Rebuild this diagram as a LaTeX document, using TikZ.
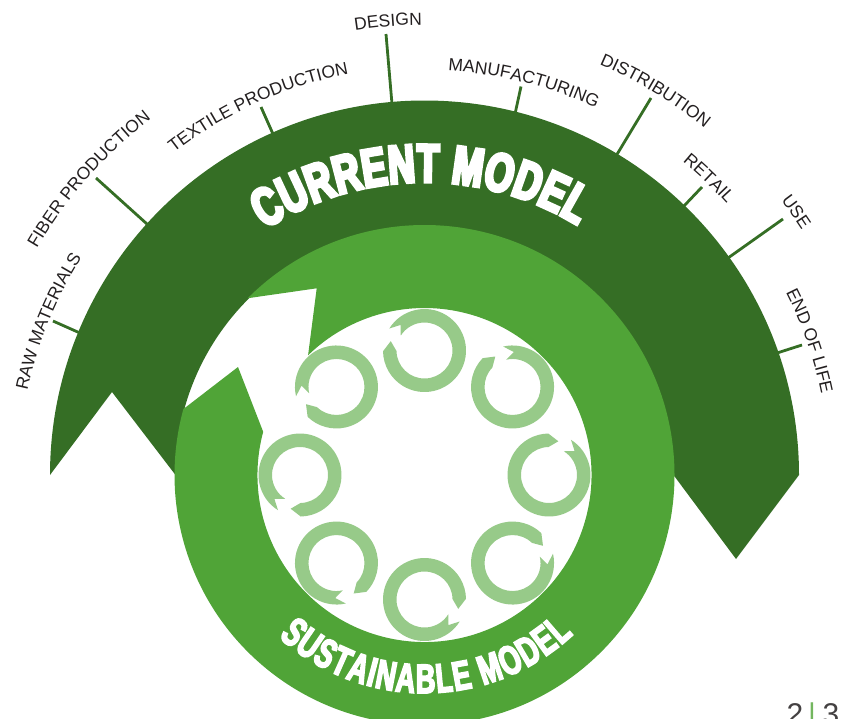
\documentclass[tikz,border=0pt]{standalone}
\usepackage{fontspec}
\usetikzlibrary{decorations.text}
\setmainfont{Liberation Sans}
\newfontface\heavyA{Liberation Sans Bold}[FakeStretch=0.68,FakeBold=6]
\newfontface\heavyB{Liberation Sans Bold}[FakeStretch=0.66,FakeBold=4]
\definecolor{darkg}{HTML}{356E25}
\definecolor{midg}{HTML}{50A437}
\definecolor{lightg}{HTML}{97CA89}
\definecolor{inkc}{HTML}{231F20}
\newcommand{\stagetext}[3]{%
  % #1 baseline radius, #2 mid angle, #3 text
  \pgfmathsetmacro{\sa}{#2+32}\pgfmathsetmacro{\ea}{#2-32}
  \path[postaction={decorate},decoration={text along path,text align=center,
     text={|\fontsize{17.5}{17.5}\selectfont\color{inkc}|#3}}]
     (\sa:#1) arc[start angle=\sa,end angle=\ea,radius=#1 pt];
}
\tikzset{
  stageline/.style={draw=darkg, line width=2.8pt},
  pagenum/.style={font=\fontsize{30}{30}\selectfont,inner sep=0pt,anchor=base},
}
\begin{document}
\begin{tikzpicture}[x=1pt,y=-1pt]
\clip (0,0) rectangle (851,718);
\begin{scope}[shift={(424.5,475)},x=1pt,y=1pt]
  % current model arrow
  \fill[darkg] (180:374.5) arc[start angle=180,end angle=0,radius=374.5pt]
     -- (311.5,-84) -- (0:249) arc[start angle=0,end angle=180,radius=249pt] -- (-312.5,83) -- cycle;
  % sustainable model arrow
  \fill[midg] (135:250) arc[start angle=135,end angle=-195.3,radius=250pt]
     -- (-186.5,108) -- (165:167) arc[start angle=-195,end angle=134.2,radius=167pt]
     -- (-107.8,186.7) -- cycle;
  % small cycles
  \foreach \p in {0,45,...,315}{
    \pgfmathsetmacro{\a}{\p+58}
    \pgfmathsetmacro{\e}{\a+33-360}
    \pgfmathsetmacro{\t}{\a+16.5}
    \pgfmathsetmacro{\n}{\a-15}
    \begin{scope}[shift={(\p:124.5)}]
      \fill[lightg] (\a:41.5) arc[start angle=\a,end angle=\e,radius=41.5pt]
        -- (\t:35) -- (\e:28) arc[start angle=\e,end angle=\a,radius=28pt]
        -- (\n:35) -- cycle;
    \end{scope}
  }
  % curved titles
  \path[postaction={decorate},decoration={text along path,text align={fit to path},
     text={|\heavyA\fontsize{54}{54}\selectfont\color{white}|CURRENT MODEL}}]
     (123:293) arc[start angle=123,end angle=58.5,radius=293pt];
  \path[postaction={decorate},decoration={text along path,text align={fit to path},
     text={|\heavyB\fontsize{41}{41}\selectfont\color{white}|SUSTAINABLE MODEL}}]
     (-132:218) arc[start angle=-132,end angle=-47,radius=218pt];
  % stage labels, concentric with the rings
  \stagetext{406}{157.8}{RAW MATERIALS}
  \stagetext{449}{138.6}{FIBER PRODUCTION}
  \stagetext{408}{114.3}{TEXTILE PRODUCTION}
  \stagetext{450}{94.6}{DESIGN}
  \stagetext{405}{75.8}{MANUFACTURING}
  \stagetext{446}{59}{DISTRIBUTION}
  \stagetext{406}{46.2}{RETAIL}
  \stagetext{450}{35.3}{USE}
  \stagetext{405}{19.2}{END OF LIFE}
\end{scope}
% connectors
\coordinate (c1a) at (53,321);  \coordinate (c1b) at (80,333);
\coordinate (c2a) at (96,178);  \coordinate (c2b) at (147,224);
\coordinate (c3a) at (261,107); \coordinate (c3b) at (273,134);
\coordinate (c4a) at (386,34);  \coordinate (c4b) at (392,104);
\coordinate (c5a) at (521,86.5);  \coordinate (c5b) at (515,114);
\coordinate (c6a) at (651,98);  \coordinate (c6b) at (616,156);
\coordinate (c7a) at (702,187); \coordinate (c7b) at (683,207);
\coordinate (c8a) at (783,219); \coordinate (c8b) at (728,258);
\coordinate (c9a) at (802,345); \coordinate (c9b) at (777,353);
\foreach \i in {1,...,9}{\draw[stageline] (c\i a) -- (c\i b);}
% page number
\node[pagenum,text=inkc!85] (pa) at (795,724) {2};
\node[pagenum,text=midg!80] (pb) at (812,724) {|};
\node[pagenum,text=inkc!85] (pc) at (831,724) {3};
\end{tikzpicture}
\end{document}
